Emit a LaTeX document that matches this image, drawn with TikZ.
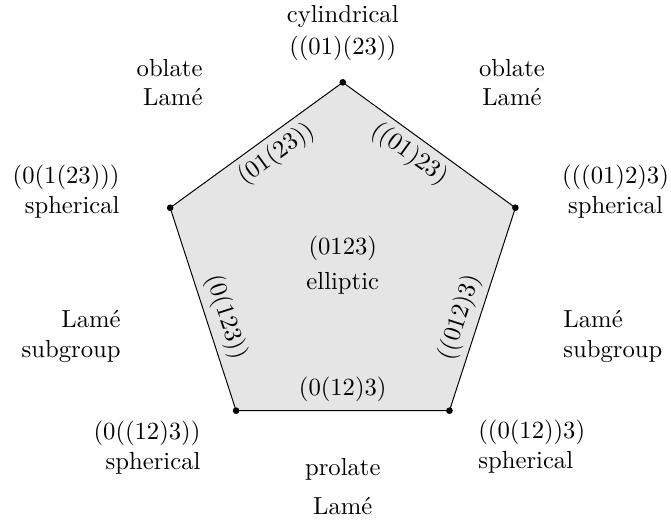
\documentclass[tikz,border=0pt]{standalone}
\begin{document}
\begin{tikzpicture}[
        x=1pt, y=1pt,
        lbl/.style={inner sep=0pt},
        edgelbl/.style={sloped, inner sep=2.5pt}
    ]
    \useasboundingbox (-139.0,-103.9) rectangle (133.1,107.0);

    % Ecken des Fuenfecks
    \coordinate (vt)  at (90:73.6);
    \coordinate (vl)  at (162:73.6);
    \coordinate (vbl) at (234:73.6);
    \coordinate (vbr) at (306:73.6);
    \coordinate (vr)  at (18:73.6);

    \filldraw[fill=gray!20] (vt) -- (vr) -- (vbr) -- (vbl) -- (vl) -- cycle;

    % Kanten
    \path (vl)  -- node[edgelbl, below, pos=0.55] {$(01(23))$} (vt);
    \path (vt)  -- node[edgelbl, below, pos=0.45] {$((01)23)$} (vr);
    \path (vl)  -- node[edgelbl, above, pos=0.57] {$(0(123))$} (vbl);
    \path (vbr) -- node[edgelbl, above, pos=0.43] {$((012)3)$} (vr);
    \path (vbl) -- node[above] {$(0(12)3)$} (vbr);

    \foreach \v in {vt,vl,vbl,vbr,vr}
        \fill (\v) circle (1.35pt);

    % Beschriftungen aussen
    \node[lbl, align=center]             (cyl)   at (0,93.6)      {cylindrical\\[1pt]$((01)(23))$};
    \node[lbl, align=right, anchor=east] (oblL)  at (-56.7,73.5)  {oblate\\Lam\'e};
    \node[lbl, align=center]             (oblR)  at (68.6,73.5)   {oblate\\Lam\'e};
    \node[lbl, align=right, anchor=east] (sphL)  at (-90.3,29.3)  {$(0(1(23)))$\\spherical};
    \node[lbl, align=center]             (sphR)  at (110.6,29.3)  {$(((01)2)3)$\\spherical};
    \node[lbl, align=center]             (ell)   at (0,-0.5)      {$(0123)$\\[2pt]elliptic};
    \node[lbl, align=right, anchor=east] (subL)  at (-89.9,-29.5) {Lam\'e\\subgroup};
    \node[lbl, align=left, anchor=west]  (subR)  at (89.3,-29.5)  {Lam\'e\\subgroup};
    \node[lbl, align=right, anchor=east] (sphBL) at (-57.5,-74.5) {$(0((12)3))$\\spherical};
    \node[lbl, align=left, anchor=west]  (sphBR) at (54.8,-74.2)  {$((0(12))3)$\\spherical};
    \node[lbl, align=center]             (prol)  at (0,-90.3)     {prolate\\[4pt]Lam\'e};

\end{tikzpicture}
\end{document}
